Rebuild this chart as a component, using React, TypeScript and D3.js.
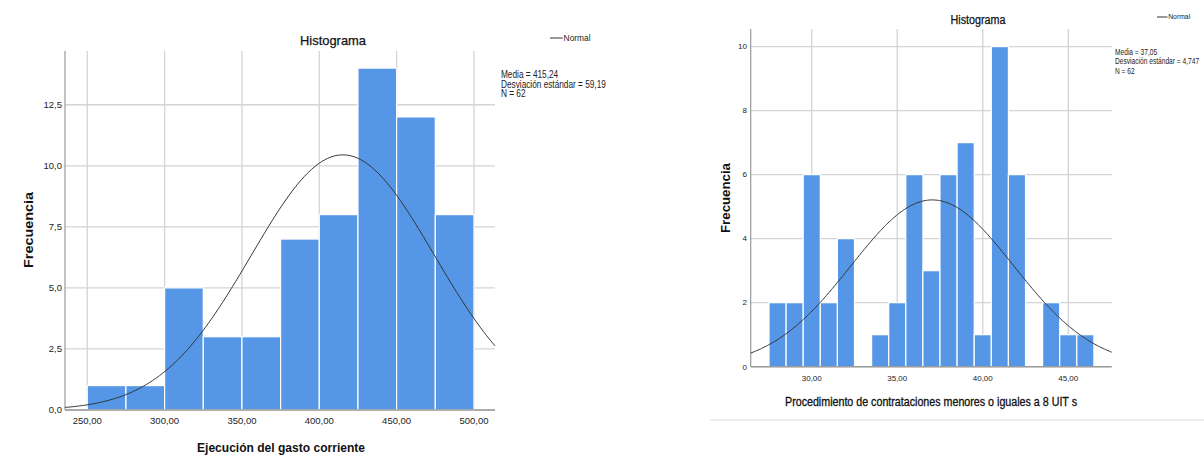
import React from "react";
import * as d3 from "d3";

// ---- Data: left histogram ----
const leftBins = [250, 275, 300, 325, 350, 375, 400, 425, 450, 475];
const leftCounts = [1, 1, 5, 3, 3, 7, 8, 14, 12, 8];
const leftBinWidth = 25;
const leftXTicks = [250, 300, 350, 400, 450, 500];
const leftYTicks = [0, 2.5, 5, 7.5, 10, 12.5];
const leftStats = ["Media = 415,24", "Desviación estándar = 59,19", "N = 62"];
const leftMean = 415.24;
const leftSd = 59.19;
const leftN = 62;

// ---- Data: right histogram ----
const rightBins = [27.5, 28.5, 29.5, 30.5, 31.5, 32.5, 33.5, 34.5, 35.5, 36.5, 37.5, 38.5, 39.5, 40.5, 41.5, 42.5, 43.5, 44.5, 45.5];
const rightCounts = [2, 2, 6, 2, 4, 0, 1, 2, 6, 3, 6, 7, 1, 10, 6, 0, 2, 1, 1];
const rightBinWidth = 1;
const rightXTicks = [30, 35, 40, 45];
const rightYTicks = [0, 2, 4, 6, 8, 10];
const rightStats = ["Media = 37,05", "Desviación estándar = 4,747", "N = 62"];
const rightMean = 37.05;
const rightSd = 4.747;
const rightN = 62;

const BAR = "#5596e6";
const GRID = "#d4d4d4";
const FONT = "'Liberation Sans', Arial, sans-serif";

type HistProps = {
  x0: number; x1: number; y0: number; y1: number;
  xDomain: [number, number]; yDomain: [number, number];
  bins: number[]; counts: number[]; binWidth: number;
  xTicks: number[]; yTicks: number[]; yFmt: (v: number) => string;
  mean: number; sd: number; n: number;
  tickFont: number;
  title: { x: number; y: number; size: number; len: number };
  legend: { x: number; y: number; size: number; len: number };
  stats: string[]; statsPos: { x: number; y: number; size: number; gap: number; sx: number };
  yLabel: { x: number; y: number; size: number; len: number };
  xLabel: { text: string; x: number; y: number; size: number; len: number; weight: string };
  xTickY: number; yTickX: number;
};

function Histogram(p: HistProps) {
  const xs = d3.scaleLinear().domain(p.xDomain).range([p.x0, p.x1]);
  const ys = d3.scaleLinear().domain(p.yDomain).range([p.y1, p.y0]);
  const pdf = (v: number) =>
    (p.n * p.binWidth) / (p.sd * Math.sqrt(2 * Math.PI)) * Math.exp(-0.5 * ((v - p.mean) / p.sd) ** 2);
  const pts = d3.range(0, 301).map((i) => p.xDomain[0] + (i / 300) * (p.xDomain[1] - p.xDomain[0]));
  const line = d3.line<number>().x((v) => xs(v)).y((v) => ys(pdf(v))).curve(d3.curveLinear);
  return (
    <g fontFamily={FONT}>
      {p.xTicks.map((t) => (
        <line key={"gx" + t} x1={xs(t)} x2={xs(t)} y1={p.y0} y2={p.y1} stroke={GRID} strokeWidth={1.3} />
      ))}
      {p.yTicks.map((t) => (
        <line key={"gy" + t} x1={p.x0} x2={p.x1} y1={ys(t)} y2={ys(t)} stroke={GRID} strokeWidth={1.3} />
      ))}
      {p.bins.map((b, i) =>
        p.counts[i] > 0 ? (
          <rect key={"b" + i} x={xs(b)} y={ys(p.counts[i])} width={xs(b + p.binWidth) - xs(b)}
            height={ys(0) - ys(p.counts[i])} fill={BAR} stroke="#ffffff" strokeWidth={1.2} />
        ) : null
      )}
      <line x1={p.x0} x2={p.x0} y1={p.y0} y2={p.y1} stroke="#9a9a9a" strokeWidth={1.2} />
      <line x1={p.x0} x2={p.x1} y1={p.y1} y2={p.y1} stroke="#9a9a9a" strokeWidth={1.5} />
      <path d={line(pts) || ""} fill="none" stroke="#333333" strokeWidth={1} />
      {p.yTicks.map((t) => (
        <text key={"ty" + t} x={p.yTickX} y={ys(t) + p.tickFont * 0.35} textAnchor="end" fontSize={p.tickFont} fill="#222">
          {p.yFmt(t)}
        </text>
      ))}
      {p.xTicks.map((t) => (
        <text key={"tx" + t} x={xs(t)} y={p.xTickY} textAnchor="middle" fontSize={p.tickFont} fill="#222">
          {d3.format(".2f")(t).replace(".", ",")}
        </text>
      ))}
      <text x={p.title.x} y={p.title.y} textAnchor="middle" fontSize={p.title.size} fill="#111"
        stroke="#111" strokeWidth={0.25}
        textLength={p.title.len} lengthAdjust="spacingAndGlyphs">Histograma</text>
      <line x1={p.legend.x} x2={p.legend.x + p.legend.size * 1.5} y1={p.legend.y} y2={p.legend.y} stroke="#333" strokeWidth={1} />
      <text x={p.legend.x + p.legend.size * 1.6} y={p.legend.y + p.legend.size * 0.35} fontSize={p.legend.size} fill="#222"
        textLength={p.legend.len} lengthAdjust="spacingAndGlyphs">Normal</text>
      {p.stats.map((s, i) => (
        <text key={"s" + i}
          transform={`translate(${p.statsPos.x},${p.statsPos.y + i * p.statsPos.gap}) scale(${p.statsPos.sx},1)`}
          fontSize={p.statsPos.size} fill="#222">{s}</text>
      ))}
      <text transform={`translate(${p.yLabel.x},${p.yLabel.y}) rotate(-90)`} textAnchor="middle" fontSize={p.yLabel.size}
        fontWeight="bold" fill="#111" textLength={p.yLabel.len} lengthAdjust="spacingAndGlyphs">Frecuencia</text>
      <text x={p.xLabel.x} y={p.xLabel.y} textAnchor="middle" fontSize={p.xLabel.size} fontWeight={p.xLabel.weight}
        fill="#111" stroke={p.xLabel.weight === "normal" ? "#111" : "none"} strokeWidth={0.3}
        textLength={p.xLabel.len} lengthAdjust="spacingAndGlyphs">{p.xLabel.text}</text>
    </g>
  );
}

export default function App() {
  const fmt1 = (v: number) => d3.format(".1f")(v).replace(".", ",");
  const fmt0 = (v: number) => String(v);
  return (
    <svg width={1204} height={460} style={{ position: "absolute", left: 0, top: 0, background: "#fff" }}>
      <rect width={1204} height={460} fill="#fff" />
      <Histogram
        x0={65} x1={495} y0={51} y1={410}
        xDomain={[235.6, 513.6]} yDomain={[0, 14.7]}
        bins={leftBins} counts={leftCounts} binWidth={leftBinWidth}
        xTicks={leftXTicks} yTicks={leftYTicks} yFmt={fmt1}
        mean={leftMean} sd={leftSd} n={leftN}
        tickFont={9.5}
        title={{ x: 333, y: 45, size: 13.5, len: 66 }}
        legend={{ x: 550, y: 38, size: 8.5, len: 27 }}
        stats={leftStats}
        statsPos={{ x: 501, y: 78, size: 10, gap: 9.6, sx: 0.827 }}
        yLabel={{ x: 33, y: 230, size: 13, len: 76 }}
        xLabel={{ text: "Ejecución del gasto corriente", x: 281, y: 452, size: 13, len: 168, weight: "bold" }}
        xTickY={424} yTickX={62}
      />
      <Histogram
        x0={750.7} x1={1111.7} y0={29} y1={366.7}
        xDomain={[26.43, 47.54]} yDomain={[0, 10.55]}
        bins={rightBins} counts={rightCounts} binWidth={rightBinWidth}
        xTicks={rightXTicks} yTicks={rightYTicks} yFmt={fmt0}
        mean={rightMean} sd={rightSd} n={rightN}
        tickFont={8}
        title={{ x: 978, y: 24, size: 12, len: 55 }}
        legend={{ x: 1157, y: 17, size: 7, len: 22 }}
        stats={rightStats}
        statsPos={{ x: 1115, y: 55, size: 8.5, gap: 9.4, sx: 0.78 }}
        yLabel={{ x: 730, y: 198, size: 12, len: 70 }}
        xLabel={{ text: "Procedimiento de contrataciones menores o iguales a 8 UIT s", x: 931, y: 406, size: 12, len: 292, weight: "normal" }}
        xTickY={381} yTickX={747}
      />
      <line x1={710} x2={1204} y1={420} y2={420} stroke="#dcdcdc" strokeWidth={1} />
    </svg>
  );
}
